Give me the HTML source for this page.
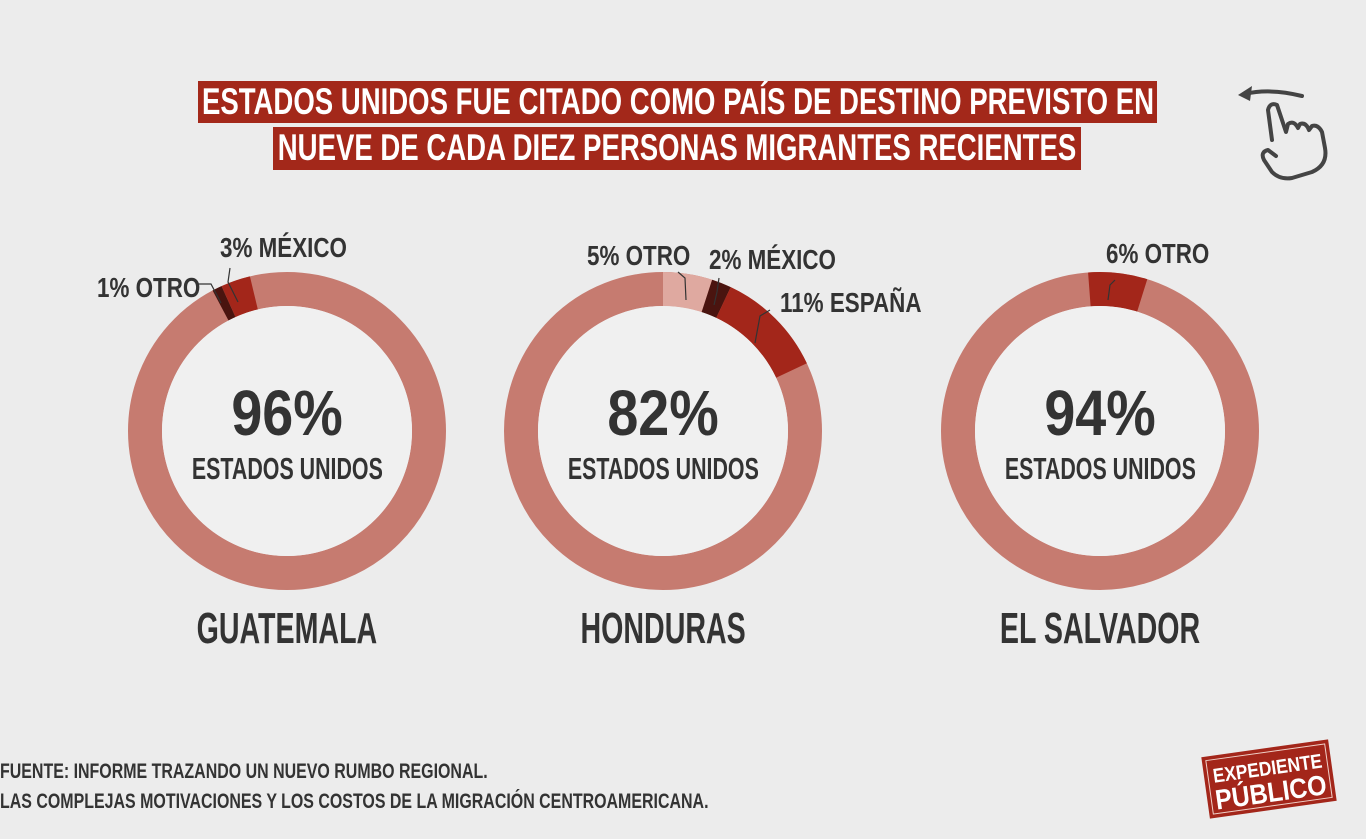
<!DOCTYPE html>
<html><head><meta charset="utf-8"><style>
body{margin:0;width:1366px;height:839px;background:#ececec;overflow:hidden;position:relative;font-family:"Liberation Sans",sans-serif;font-weight:bold;color:#333}
.t{position:absolute;background:#a3281a;color:#fff;font-size:37px;line-height:42px;white-space:nowrap;overflow:hidden}
.t span{position:absolute;left:50%;top:0;transform:translateX(-50%) scaleX(0.745);transform-origin:center}
.l{position:absolute;white-space:nowrap;font-size:28px;color:#333;transform:scaleX(0.8);transform-origin:left}
.c{position:absolute;text-align:center;white-space:nowrap}
.c span{display:inline-block;transform-origin:center}
</style></head><body>
<div class="t" style="left:198px;top:81px;width:959px;height:42px"><span>ESTADOS UNIDOS FUE CITADO COMO PAÍS DE DESTINO PREVISTO EN</span></div>
<div class="t" style="left:273px;top:127px;width:808px;height:43px"><span>NUEVE DE CADA DIEZ PERSONAS MIGRANTES RECIENTES</span></div>

<svg width="1366" height="839" style="position:absolute;left:0;top:0">
<g fill="none" stroke-width="34">
<circle cx="287" cy="431" r="142" stroke="#c67b70"/>
<circle cx="287" cy="431" r="142" stroke="#a3261a" stroke-dasharray="26.8 900" transform="rotate(-114.3 287 431)"/>
<circle cx="287" cy="431" r="142" stroke="#4a140f" stroke-dasharray="8.9 900" transform="rotate(-117.9 287 431)"/>
<circle cx="663" cy="431" r="142" stroke="#c67b70"/>
<circle cx="663" cy="431" r="142" stroke="#dfa9a0" stroke-dasharray="44.6 900" transform="rotate(-90 663 431)"/>
<circle cx="663" cy="431" r="142" stroke="#4a140f" stroke-dasharray="17.9 900" transform="rotate(-72 663 431)"/>
<circle cx="663" cy="431" r="142" stroke="#a3261a" stroke-dasharray="98.1 900" transform="rotate(-64.8 663 431)"/>
<circle cx="1100" cy="431" r="142" stroke="#c67b70"/>
<circle cx="1100" cy="431" r="142" stroke="#a3261a" stroke-dasharray="53.5 900" transform="rotate(-94.3 1100 431)"/>
</g>
<circle cx="287" cy="431" r="125" fill="#f0f0f0"/>
<circle cx="663" cy="431" r="125" fill="#f0f0f0"/>
<circle cx="1100" cy="431" r="125" fill="#f0f0f0"/>
<g stroke="#333" stroke-width="1.2" fill="none">
<polyline points="197,284 211,284 221,303"/>
<polyline points="230,268 228,282 238,302"/>
<polyline points="678,272 685,278 686,300"/>
<polyline points="719,278 717,292 714,305"/>
<polyline points="770,310 760,316 755,343"/>
<polyline points="1115,280 1110,285 1108,300"/>
</g>
<g stroke="#444" stroke-width="4" fill="none" stroke-linecap="round" stroke-linejoin="round">
<path d="M1302,96 Q1270,88 1245,94"/>
<path d="M1272,140 L1268,110 Q1270,102 1277,105 L1286,132 L1288,124 Q1294,120 1298,128 L1300,124 Q1306,122 1309,130 L1312,126 Q1318,124 1322,132 L1325,148 Q1328,165 1312,172 L1292,178 Q1280,180 1272,172 L1264,160 Q1260,152 1268,150 L1276,156"/>
</g>
<path d="M1238,95 L1252,86 L1250,101 Z" fill="#444"/>
<g transform="rotate(-8 1269 779)">
<rect x="1205" y="748" width="128" height="62" fill="#a3261a"/>
<rect x="1209" y="752" width="120" height="54" fill="none" stroke="#f0d0c8" stroke-width="1"/>
<text x="1269" y="775" fill="#fff" font-size="20" text-anchor="middle" font-family="Liberation Sans" font-weight="bold" textLength="110" lengthAdjust="spacingAndGlyphs">EXPEDIENTE</text>
<text x="1269" y="802" fill="#fff" font-size="28" text-anchor="middle" font-family="Liberation Sans" font-weight="bold" textLength="112" lengthAdjust="spacingAndGlyphs">PÚBLICO</text>
</g>
</svg>

<div class="l" style="left:220px;top:232px">3% MÉXICO</div>
<div class="l" style="left:97px;top:272px">1% OTRO</div>
<div class="l" style="left:587px;top:240px">5% OTRO</div>
<div class="l" style="left:709px;top:244px">2% MÉXICO</div>
<div class="l" style="left:780px;top:287px">11% ESPAÑA</div>
<div class="l" style="left:1106px;top:238px">6% OTRO</div>

<div class="c" style="left:187px;width:200px;top:376px;font-size:64px"><span style="transform:scaleX(0.87)">96%</span></div>
<div class="c" style="left:137px;width:300px;top:451px;font-size:31px"><span style="transform:scaleX(0.69)">ESTADOS UNIDOS</span></div>
<div class="c" style="left:563px;width:200px;top:376px;font-size:64px"><span style="transform:scaleX(0.87)">82%</span></div>
<div class="c" style="left:513px;width:300px;top:451px;font-size:31px"><span style="transform:scaleX(0.69)">ESTADOS UNIDOS</span></div>
<div class="c" style="left:1000px;width:200px;top:376px;font-size:64px"><span style="transform:scaleX(0.87)">94%</span></div>
<div class="c" style="left:950px;width:300px;top:451px;font-size:31px"><span style="transform:scaleX(0.69)">ESTADOS UNIDOS</span></div>

<div class="c" style="left:132px;width:310px;top:604px;font-size:44px"><span style="transform:scaleX(0.65)">GUATEMALA</span></div>
<div class="c" style="left:508px;width:310px;top:604px;font-size:44px"><span style="transform:scaleX(0.65)">HONDURAS</span></div>
<div class="c" style="left:945px;width:310px;top:604px;font-size:44px"><span style="transform:scaleX(0.65)">EL SALVADOR</span></div>

<div class="l" style="left:0;top:760px;font-size:21px;transform:scaleX(0.76)">FUENTE: INFORME TRAZANDO UN NUEVO RUMBO REGIONAL.</div>
<div class="l" style="left:0;top:790px;font-size:21px;transform:scaleX(0.76)">LAS COMPLEJAS MOTIVACIONES Y LOS COSTOS DE LA MIGRACIÓN CENTROAMERICANA.</div>
</body></html>
